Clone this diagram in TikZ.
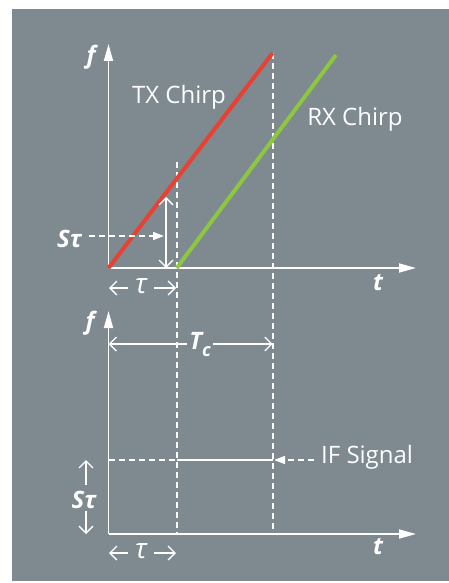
\documentclass[tikz,border=0pt]{standalone}
\usepackage{fontspec}
\setmainfont{Open Sans}
\usetikzlibrary{arrows.meta}
\definecolor{bg}{RGB}{126,137,144}
\definecolor{txred}{RGB}{232,65,50}
\definecolor{rxgreen}{RGB}{141,198,63}
\begin{document}
\begin{tikzpicture}[x=1pt,y=-1pt,
  lbl/.style={text=white,font=\fontsize{24}{28}\selectfont,inner sep=0pt},
  var/.style={text=white,font=\fontsize{24}{28}\selectfont\bfseries\itshape,inner sep=0pt},
  tauv/.style={text=white,font=\fontsize{28}{32}\selectfont\itshape,inner sep=0pt},
  axis/.style={white,line width=1.8pt,-{Triangle[length=17pt,width=9pt]}},
  dline/.style={white,line width=1.6pt,dash pattern=on 6pt off 4pt},
  oarrow/.style={white,line width=1.3pt,-{Straight Barb[length=7pt,width=14pt]}},
  dimarrow/.style={white,line width=1.3pt,{Straight Barb[length=7pt,width=14pt]}-{Straight Barb[length=7pt,width=14pt]}},
  farrow/.style={white,line width=1.6pt,dash pattern=on 6pt off 4pt,-{Triangle[length=11pt,width=8pt]}},
  chirp/.style={line width=4pt}
]
\useasboundingbox (0,0) rectangle (449,583);
\fill[bg] (12,9) rectangle (449,581);

% ---------- top plot ----------
\coordinate (O1) at (108.5,268);
\coordinate (F1) at (108.5,44);
\coordinate (T1) at (416,268);
\coordinate (txend) at (272.7,53);
\coordinate (rx0) at (176.7,268);
\coordinate (rxend) at (336,55);
\coordinate (d1top) at (176.7,162);
\coordinate (d1bot) at (176.7,534);
\coordinate (d2bot) at (272.7,534);

\draw[dline] (d1top) -- (d1bot);
\draw[dline] (txend) -- (d2bot);
\draw[axis] (O1) -- (F1);
\draw[axis] (O1) -- (T1);
\draw[chirp,txred] (O1) -- (txend);
\draw[chirp,rxgreen] (rx0) -- (rxend);

\node[var] (f1) at (91,57) {f};
\node[var] (t1) at (378,283) {t};
\node[lbl] (tx) at (179,97) {TX Chirp};
\node[lbl] (rx) at (355,119) {RX Chirp};

\coordinate (va) at (166,197);
\coordinate (vb) at (166,268);
\draw[dimarrow] (vb) -- (va);

\node[var] (st1) at (69.5,239) {Sτ};
\coordinate (sta) at (89,236);
\coordinate (stb) at (164,236);
\draw[farrow] (sta) -- (stb);

\node[tauv] (tau1) at (141,286) {τ};
\coordinate (ta1l) at (109,288);
\coordinate (ta1r) at (176,288);
\draw[oarrow] (128,288) -- (ta1l);
\draw[oarrow] (154,288) -- (ta1r);

% ---------- bottom plot ----------
\coordinate (O2) at (108.5,534);
\coordinate (F2) at (108.5,311);
\coordinate (T2) at (416,534);
\draw[axis] (O2) -- (F2);
\draw[axis] (O2) -- (T2);

\node[var] (f2) at (90,323) {f};
\node[var] (t2) at (378,547) {t};

\coordinate (tca) at (108.5,344);
\coordinate (tcb) at (272.7,344);
\draw[dimarrow] (tca) -- (tcb);
\node[var,fill=bg,inner xsep=2pt] (tc) at (200,345) {T\raisebox{-7pt}{\fontsize{18}{20}\selectfont c}};

\coordinate (ifa) at (108.5,460);
\coordinate (ifb) at (176.7,460);
\coordinate (ifc) at (272.7,460);
\draw[dline] (ifa) -- (ifb);
\draw[white,line width=1.6pt] (ifb) -- (ifc);
\node[lbl,anchor=west] (ifl) at (321,457) {IF Signal};
\draw[farrow] (314,460) -- (274,460);

\node[var] (st2) at (84,500) {Sτ};
\coordinate (s2a) at (86,460);
\coordinate (s2b) at (86,534);
\draw[oarrow] (86,485) -- (s2a);
\draw[oarrow] (86,511) -- (s2b);

\node[tauv] (tau2) at (141,551) {τ};
\coordinate (ta2l) at (109,553);
\coordinate (ta2r) at (176,553);
\draw[oarrow] (128,553) -- (ta2l);
\draw[oarrow] (154,553) -- (ta2r);
\end{tikzpicture}
\end{document}
